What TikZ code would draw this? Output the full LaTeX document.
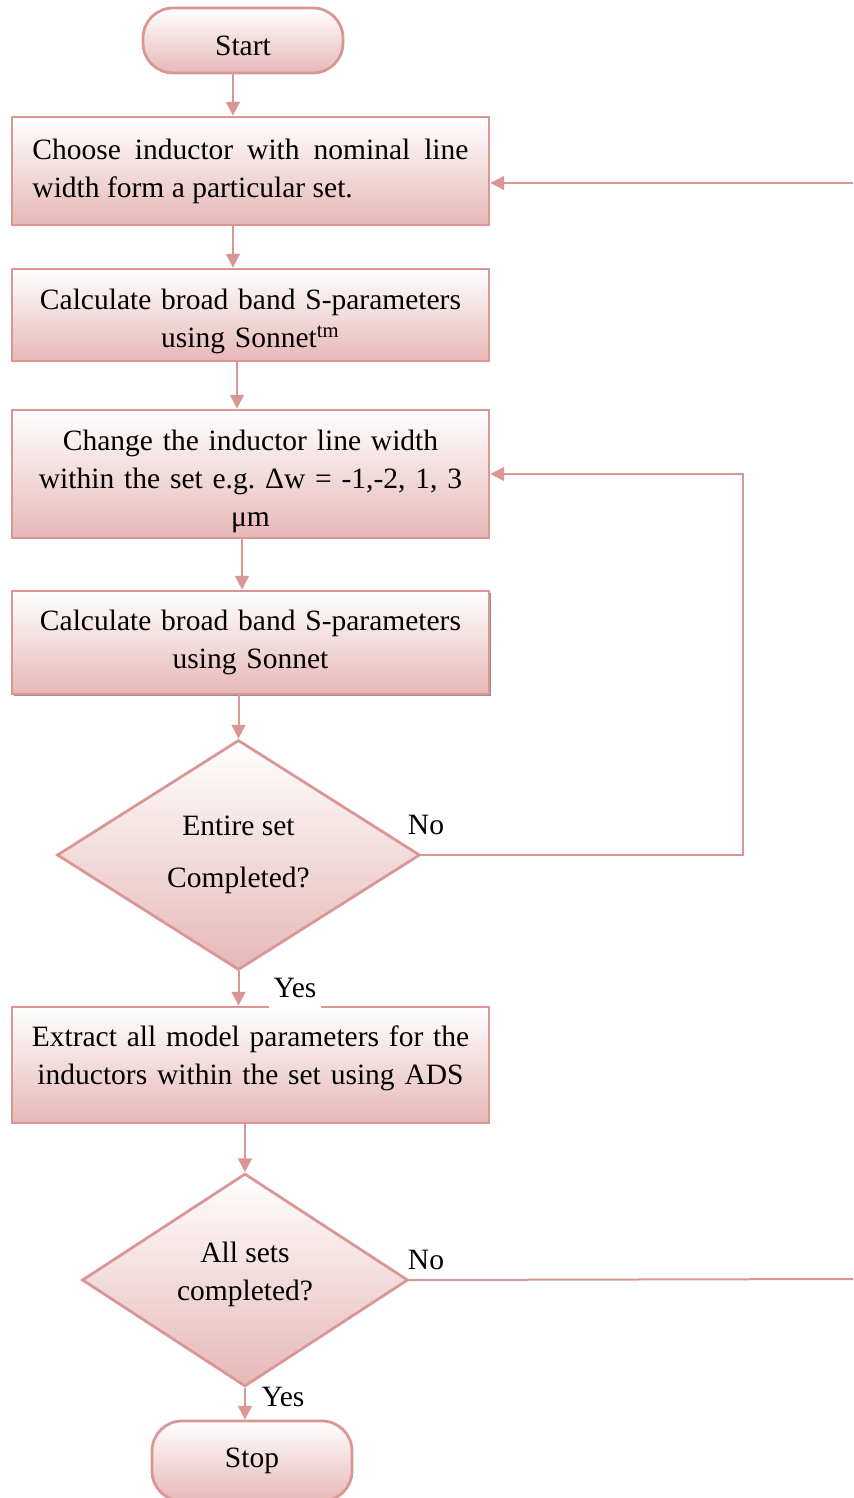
\documentclass[tikz,border=0pt]{standalone}
\usepackage{fontspec}
\setmainfont{Liberation Serif}
\usetikzlibrary{shapes.geometric,arrows.meta,shadows}
\definecolor{boxline}{RGB}{217,150,148}
\definecolor{boxfill}{RGB}{230,184,183}
\frenchspacing
\begin{document}
\begin{tikzpicture}[x=0.4pt,y=-0.4pt,
  font=\fontsize{11.8}{15.2}\selectfont,
  shadedbox/.style={draw=boxline,line width=1.1pt,top color=white,bottom color=boxfill},
  terminal/.style={shadedbox,rectangle,rounded corners=12pt,minimum width=80pt,inner sep=0pt},
  process/.style={shadedbox,rectangle,minimum width=190.8pt,text width=186pt,inner sep=0pt,align=center},
  decision/.style={shadedbox,diamond,inner sep=0pt,align=center},
  flowline/.style={draw=boxline,line width=0.8pt,-{Triangle[length=5.5pt,width=5.5pt]}},
  answer/.style={fill=white,inner sep=2pt}]
\useasboundingbox (0,0) rectangle (853,1498);
\node[terminal,minimum height=26pt] (start) at (243,40.5) {\rule{0pt}{12pt}Start};
\node[process,minimum height=43.2pt,text width=174.4pt,align=justify] (choose) at (250.5,171) {Choose inductor with nominal line\linebreak width form a particular set.};
\node[process,minimum height=36.8pt] (calcA) at (250.5,315) {\rule{0pt}{13.7pt}Calculate broad band S-parameters\\using Sonnet\textsuperscript{tm}};
\node[process,minimum height=51.2pt] (change) at (250.5,474) {\rule{0pt}{14.5pt}Change the inductor line width\\within the set e.g. Δw = -1,-2, 1, 3\\μm};
\node[process,minimum height=41.2pt,drop shadow={shadow xshift=0.8pt,shadow yshift=-0.8pt,fill=boxline!60!black,opacity=0.7}] (calcB) at (250.5,642.5) {Calculate broad band S-parameters\\using Sonnet};
\node[decision,minimum width=145.2pt,minimum height=92pt,font=\fontsize{11.8}{20.8}\selectfont] (entire) at (238.5,855) {Entire set\\Completed?};
\node[process,minimum height=46.4pt] (extract) at (250.5,1065) {Extract all model parameters for the\\inductors within the set using ADS\rule[-8.2pt]{0pt}{0pt}};
\node[decision,minimum width=130.4pt,minimum height=84pt] (allsets) at (245,1280) {All sets\\completed?\rule[-7.4pt]{0pt}{0pt}};
\node[terminal,minimum height=32pt] (stop) at (252,1461) {Stop};
\coordinate (loopin) at (853,183);
\coordinate (loopout) at (853,1279);
\draw[flowline] ([xshift=-4pt]start.south) -- ([xshift=-4pt]start.south |- choose.north);
\draw[flowline] ([xshift=-7pt]choose.south) -- ([xshift=-7pt]choose.south |- calcA.north);
\draw[flowline] ([xshift=-5.4pt]calcA.south) -- ([xshift=-5.4pt]calcA.south |- change.north);
\draw[flowline] ([xshift=-3.4pt]change.south) -- ([xshift=-3.4pt]change.south |- calcB.north);
\draw[flowline] (calcB.south -| entire.north) -- (entire.north);
\draw[flowline] (entire.south) -- (entire.south |- extract.north);
\draw[flowline] (extract.south -| allsets.north) -- (allsets.north);
\draw[flowline] (allsets.south) -- (allsets.south |- stop.north);
\draw[flowline] (entire.east) -- ++(322,0) |- (change.east);
\draw[flowline] (loopin) -- (loopin -| choose.east);
\draw[draw=boxline,line width=0.8pt] (allsets.east) -- (loopout);
\node[answer] (noA) at (426,825) {No};
\node[answer,inner ysep=4pt] (yesA) at (295,988) {Yes};
\node[answer] (noB) at (426,1260) {No};
\node[answer] (yesB) at (283,1397) {Yes};
\end{tikzpicture}
\end{document}
